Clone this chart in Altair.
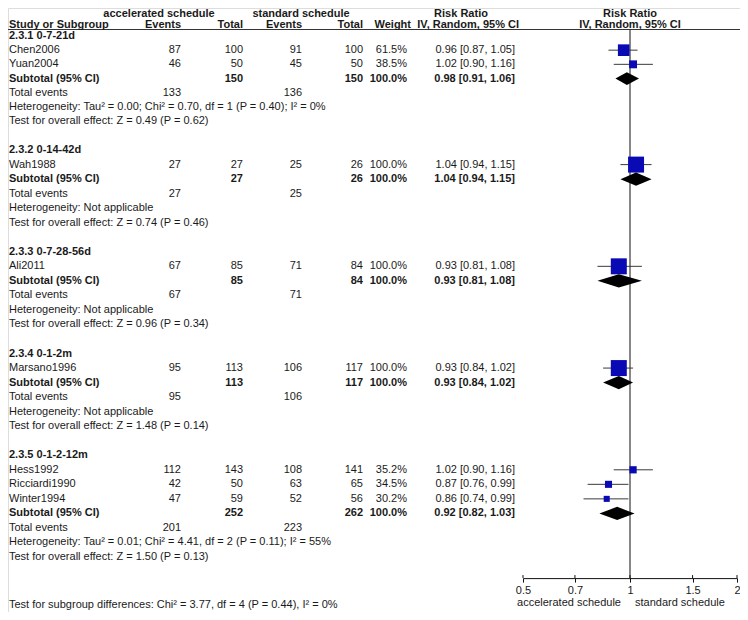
import altair as alt
import pandas as pd
import numpy as np

# ---------------- data ----------------
groups = ["2.3.1 0-7-21d", "2.3.2 0-14-42d", "2.3.3 0-7-28-56d", "2.3.4 0-1-2m", "2.3.5 0-1-2-12m"]

studies = ["Chen2006", "Yuan2004", "Wah1988", "Ali2011", "Marsano1996", "Hess1992", "Ricciardi1990", "Winter1994"]
study_group = [0, 0, 1, 2, 3, 4, 4, 4]
acc_events = [87, 46, 27, 67, 95, 112, 42, 47]
acc_total = [100, 50, 27, 85, 113, 143, 50, 59]
std_events = [91, 45, 25, 71, 106, 108, 63, 52]
std_total = [100, 50, 26, 84, 117, 141, 65, 56]
weights = [61.5, 38.5, 100.0, 100.0, 100.0, 35.2, 34.5, 30.2]
rr = [0.96, 1.02, 1.04, 0.93, 0.93, 1.02, 0.87, 0.86]
rr_lo = [0.87, 0.90, 0.94, 0.81, 0.84, 0.90, 0.76, 0.74]
rr_hi = [1.05, 1.16, 1.15, 1.08, 1.02, 1.16, 0.99, 0.99]

sub_acc_total = [150, 27, 85, 113, 252]
sub_std_total = [150, 26, 84, 117, 262]
sub_rr = [0.98, 1.04, 0.93, 0.93, 0.92]
sub_lo = [0.91, 0.94, 0.81, 0.84, 0.82]
sub_hi = [1.06, 1.15, 1.08, 1.02, 1.03]
tot_acc_events = [133, 27, 67, 95, 201]
tot_std_events = [136, 25, 71, 106, 223]
heterogeneity = [
    "Heterogeneity: Tau\u00b2 = 0.00; Chi\u00b2 = 0.70, df = 1 (P = 0.40); I\u00b2 = 0%",
    "Heterogeneity: Not applicable",
    "Heterogeneity: Not applicable",
    "Heterogeneity: Not applicable",
    "Heterogeneity: Tau\u00b2 = 0.01; Chi\u00b2 = 4.41, df = 2 (P = 0.11); I\u00b2 = 55%",
]
overall = [
    "Test for overall effect: Z = 0.49 (P = 0.62)",
    "Test for overall effect: Z = 0.74 (P = 0.46)",
    "Test for overall effect: Z = 0.96 (P = 0.34)",
    "Test for overall effect: Z = 1.48 (P = 0.14)",
    "Test for overall effect: Z = 1.50 (P = 0.13)",
]
subgroup_test = "Test for subgroup differences: Chi\u00b2 = 3.77, df = 4 (P = 0.44), I\u00b2 = 0%"
axis_ticks = [0.5, 0.7, 1, 1.5, 2]
favours = ["accelerated schedule", "standard schedule"]

# ---------------- layout ----------------
W, H = 732, 604
def cx(ref):
    return ref - 8

# piecewise row -> pixel mapping (slightly compressed at the top and bottom)
Y_DOM = [-2.0, 0.0, 6.0, 36.0, 40.0]
Y_RNG = [6.0, 28.0, 113.0, 549.0, 601.0]
def py(row):
    return float(np.interp(row, Y_DOM, Y_RNG))

FONT = "Liberation Sans, Arial, sans-serif"
TXT = "#1a1a1a"
FS = 11

cells = []   # row, col, label, bold
study_pts = []
diamonds = []
row = 0
for g, gname in enumerate(groups):
    cells.append((row, "left", gname, True))
    r = row + 1
    for i, s in enumerate(studies):
        if study_group[i] != g:
            continue
        cells += [
            (r, "left", s, False),
            (r, "ae", str(acc_events[i]), False),
            (r, "at", str(acc_total[i]), False),
            (r, "se", str(std_events[i]), False),
            (r, "st", str(std_total[i]), False),
            (r, "w", f"{weights[i]:.1f}%", False),
            (r, "rr", f"{rr[i]:.2f} [{rr_lo[i]:.2f}, {rr_hi[i]:.2f}]", False),
        ]
        study_pts.append(dict(row=r, rr=rr[i], lo=rr_lo[i], hi=rr_hi[i], weight=weights[i]))
        r += 1
    cells += [
        (r, "left", "Subtotal (95% CI)", True),
        (r, "at", str(sub_acc_total[g]), True),
        (r, "st", str(sub_std_total[g]), True),
        (r, "w", "100.0%", True),
        (r, "rr", f"{sub_rr[g]:.2f} [{sub_lo[g]:.2f}, {sub_hi[g]:.2f}]", True),
    ]
    h = 0.45
    diamonds += [
        dict(grp=g, dx=sub_lo[g], dy=r, dy2=r),
        dict(grp=g, dx=sub_rr[g], dy=r - h, dy2=r + h),
        dict(grp=g, dx=sub_hi[g], dy=r, dy2=r),
    ]
    cells += [
        (r + 1, "left", "Total events", False),
        (r + 1, "ae", str(tot_acc_events[g]), False),
        (r + 1, "se", str(tot_std_events[g]), False),
        (r + 2, "left", heterogeneity[g], False),
        (r + 3, "left", overall[g], False),
    ]
    row = r + 5

cells_df = pd.DataFrame(cells, columns=["row", "col", "label", "bold"])
pts_df = pd.DataFrame(study_pts)
dia_df = pd.DataFrame(diamonds)

ROW_HDR1, ROW_HDR2, ROW_LINE = -2.0, -1.0, -0.59
ROW_AXIS = 37.62
ROW_FAV = 39.54
ROW_SUBTEST = 39.66
AXIS_Y = py(ROW_AXIS)

header_df = pd.DataFrame([
    (ROW_HDR1, "acc", "accelerated schedule"),
    (ROW_HDR1, "std", "standard schedule"),
    (ROW_HDR1, "rr1", "Risk Ratio"),
    (ROW_HDR2, "left", "Study or Subgroup"),
    (ROW_HDR2, "ae", "Events"),
    (ROW_HDR2, "at", "Total"),
    (ROW_HDR2, "se", "Events"),
    (ROW_HDR2, "st", "Total"),
    (ROW_HDR2, "w", "Weight"),
    (ROW_HDR2, "rr2", "IV, Random, 95% CI"),
], columns=["row", "col", "label"])

col_pos = {
    "left": (1, "left"),
    "ae": (cx(181), "right"),
    "at": (cx(243), "right"),
    "se": (cx(302), "right"),
    "st": (cx(363), "right"),
    "w": (cx(407), "right"),
    "rr": (cx(515), "right"),
}
hdr_pos = {
    "acc": (cx(159), "center"),
    "std": (cx(301), "center"),
    "rr1": (cx(461), "center"),
    "left": (1, "left"),
    "ae": (cx(181), "right"),
    "at": (cx(243), "right"),
    "se": (cx(302), "right"),
    "st": (cx(363), "right"),
    "w": (cx(411), "right"),
    "rr2": (cx(519), "right"),
}

yscale = alt.Scale(domain=Y_DOM, range=Y_RNG, nice=False, zero=False)
Yenc = alt.Y("row:Q", scale=yscale, axis=None)
xscale = alt.Scale(type="log", domain=[0.5, 2], range=[cx(523), cx(737)], nice=False)

layers = []

# header horizontal line
layers.append(
    alt.Chart(pd.DataFrame({"row": [ROW_LINE]})).mark_rule(color="#333333", strokeWidth=1).encode(
        x=alt.value(0), x2=alt.value(W), y=Yenc)
)

# table text
for col, (xp, al) in col_pos.items():
    for bold in (False, True):
        sub = cells_df[(cells_df.col == col) & (cells_df.bold == bold)]
        if len(sub) == 0:
            continue
        layers.append(
            alt.Chart(sub).mark_text(align=al, baseline="middle", font=FONT, fontSize=FS,
                                     fontWeight="bold" if bold else "normal", color=TXT).encode(
                x=alt.value(xp), y=Yenc, text="label:N")
        )

for col, (xp, al) in hdr_pos.items():
    sub = header_df[header_df.col == col]
    layers.append(
        alt.Chart(sub).mark_text(align=al, baseline="middle", font=FONT, fontSize=FS,
                                 fontWeight="bold", color=TXT).encode(
            x=alt.value(xp), y=Yenc, text="label:N")
    )

# forest header (centered on RR = 1)
fh_df = pd.DataFrame({"row": [ROW_HDR1, ROW_HDR2], "label": ["Risk Ratio", "IV, Random, 95% CI"], "x": [1, 1]})
layers.append(
    alt.Chart(fh_df).mark_text(align="center", baseline="middle", font=FONT, fontSize=FS,
                               fontWeight="bold", color=TXT).encode(
        x=alt.X("x:Q", scale=xscale), y=Yenc, text="label:N")
)

# vertical line of no effect
layers.append(
    alt.Chart(pd.DataFrame({"x": [1], "row": [ROW_LINE], "row2": [ROW_AXIS]})).mark_rule(
        color="#111111", strokeWidth=1).encode(
        x=alt.X("x:Q", scale=xscale), y=Yenc, y2="row2:Q")
)

# CI lines (carry the x axis)
layers.append(
    alt.Chart(pts_df).mark_rule(color="#3a3a3a", strokeWidth=1).encode(
        x=alt.X("lo:Q", scale=xscale,
                axis=alt.Axis(values=axis_ticks, format="~g", title=None, offset=round(AXIS_Y - H, 1),
                              domainColor="#111111", tickColor="#111111", tickSize=4, labelPadding=2,
                              labelFont=FONT, labelFontSize=FS, labelColor=TXT, grid=False,
                              labelFlush=False, domainWidth=1, tickWidth=1)),
        x2="hi:Q", y=Yenc)
)

# upper halves of the axis ticks (ticks cross the axis line)
layers.append(
    alt.Chart(pd.DataFrame({"t": axis_ticks})).mark_rule(color="#111111", strokeWidth=1).encode(
        x=alt.X("t:Q", scale=xscale), y=alt.value(AXIS_Y), y2=alt.value(AXIS_Y - 3))
)

# squares
layers.append(
    alt.Chart(pts_df).mark_point(shape="square", filled=True, color="#0a0ab4", opacity=1).encode(
        x=alt.X("rr:Q", scale=xscale), y=Yenc,
        size=alt.Size("weight:Q", scale=alt.Scale(domain=[30, 100], range=[36, 256]), legend=None))
)

# diamonds (one area per subgroup)
for g in range(len(groups)):
    layers.append(
        alt.Chart(dia_df[dia_df.grp == g]).mark_area(color="black", opacity=1, orient="vertical",
                                                     interpolate="linear").encode(
            x=alt.X("dx:Q", scale=xscale),
            y=alt.Y("dy:Q", scale=yscale, axis=None, stack=None),
            y2="dy2:Q")
    )

# favours labels
fav_df = pd.DataFrame({"x": [1, 1], "row": [ROW_FAV, ROW_FAV], "label": favours})
layers.append(
    alt.Chart(fav_df[fav_df.label == favours[0]]).mark_text(align="right", baseline="middle", font=FONT,
                                                           fontSize=FS, color=TXT, dx=-9).encode(
        x=alt.X("x:Q", scale=xscale), y=Yenc, text="label:N")
)
layers.append(
    alt.Chart(fav_df[fav_df.label == favours[1]]).mark_text(align="left", baseline="middle", font=FONT,
                                                           fontSize=FS, color=TXT, dx=5).encode(
        x=alt.X("x:Q", scale=xscale), y=Yenc, text="label:N")
)

# subgroup differences
layers.append(
    alt.Chart(pd.DataFrame({"row": [ROW_SUBTEST], "label": [subgroup_test]})).mark_text(
        align="left", baseline="middle", font=FONT, fontSize=FS, color=TXT).encode(
        x=alt.value(1), y=Yenc, text="label:N")
)

chart = alt.layer(*layers).properties(
    width=W, height=H, padding=0, autosize=alt.AutoSizeParams(type="none")
).configure_view(stroke=None).configure(background="white")

chart.save("out.html", embed_options={"renderer": "svg", "actions": False})
